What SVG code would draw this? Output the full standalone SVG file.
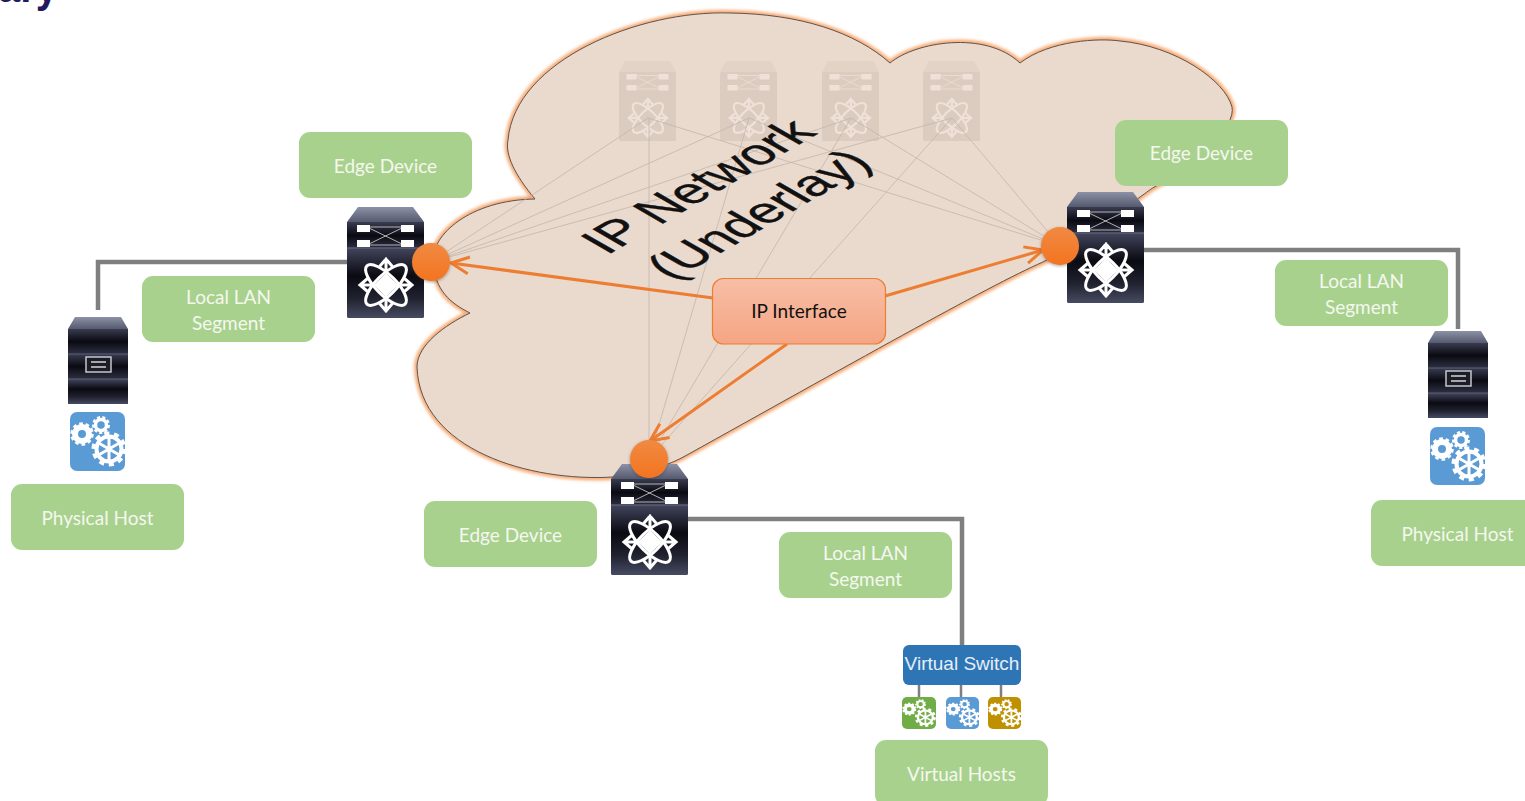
<svg xmlns="http://www.w3.org/2000/svg" xmlns:xlink="http://www.w3.org/1999/xlink" width="1525" height="801" viewBox="0 0 1525 801">
<style>
text{font-family:"Lato","Open Sans","Liberation Sans",sans-serif}
.lbl rect{fill:#a9d18e}
.lbl text{fill:#f4f8ee;font-size:19px;text-anchor:middle}
.lan{fill:none;stroke:#7f7f7f;stroke-width:4.5}
.thin{stroke:#c2b6ab;stroke-width:.8;fill:none}
.or{stroke:#ed7d31;stroke-width:3;fill:none;marker-end:url(#arr)}
.dot{fill:url(#dotG);filter:url(#shadow)}
.big{font-family:"Liberation Sans",Arial,sans-serif;font-size:50px;fill:#111;stroke:#111;stroke-width:.5}
</style>
<defs>
<linearGradient id="dotG" x1="0" y1="0" x2="0" y2="1"><stop offset="0" stop-color="#f08a42"/><stop offset="1" stop-color="#f37420"/></linearGradient>
<linearGradient id="ifG" x1="0" y1="0" x2="0" y2="1"><stop offset="0" stop-color="#f7bea6"/><stop offset="1" stop-color="#f5a583"/></linearGradient>
<linearGradient id="topG" x1="0" y1="0" x2="0" y2="1"><stop offset="0" stop-color="#8d91a5"/><stop offset="1" stop-color="#565a70"/></linearGradient>
<linearGradient id="panG" x1="0" y1="0" x2="0" y2="1"><stop offset="0" stop-color="#42455c"/><stop offset=".4" stop-color="#0a0a12"/><stop offset=".72" stop-color="#20222f"/><stop offset="1" stop-color="#474b62"/></linearGradient>
<linearGradient id="panS" x1="0" y1="0" x2="0" y2="1"><stop offset="0" stop-color="#3a3c50"/><stop offset=".5" stop-color="#0a0a12"/><stop offset="1" stop-color="#2e3042"/></linearGradient>
<filter id="glow" x="-5%" y="-5%" width="110%" height="110%"><feGaussianBlur stdDeviation="1.800"/></filter>
<filter id="shadow" x="-30%" y="-30%" width="160%" height="160%"><feDropShadow dx="0" dy="1" stdDeviation="1.500" flood-color="#333" flood-opacity=".45"/></filter>
<marker id="arr" markerUnits="userSpaceOnUse" markerWidth="24" markerHeight="24" refX="21" refY="12" orient="auto"><path d="M3 3.500 L21 12 L3 20.500" fill="none" stroke="#ed7d31" stroke-width="3"/></marker>
<path id="cloudPath" d="M613 477 C530 482 420 450 417 367 C417 345 445 325 470 313 C450 303 435 290 433 262 C431 235 470 200 535 199 C515 175 505 155 508 140 C515 60 640 10 730 13 C800 14 855 32 890 63 C915 42 985 30 1020 63 C1050 40 1100 38 1120 41 C1175 46 1225 80 1232 107 C1236 125 1200 165 1158 185 C1150 189 1146 193 1140 197 C1110 220 1075 245 1043 262 C990 285 840 370 687 455 C670 465 640 475 613 477Z"/>
<g id="star" fill="none" stroke-width="3">
<ellipse cx="39" cy="78" rx="27" ry="10" transform="rotate(45 39 78)"/>
<ellipse cx="39" cy="78" rx="27" ry="10" transform="rotate(-45 39 78)"/>
<path d="M39 52 V66 M33 59 L39 52 L45 59 M39 104 V90 M33 97 L39 104 L45 97 M13 78 H27 M20 72 L13 78 L20 84 M65 78 H51 M58 72 L65 78 L58 84" stroke-linecap="round"/>
</g>
<g id="sw">
<path d="M11 0 H66 L77 15 H0Z" fill="url(#topG)"/>
<rect y="15" width="77" height="27" fill="url(#panS)"/>
<rect y="41" width="77" height="70" rx="1.500" fill="url(#panG)"/>
<path d="M0 41 H77" stroke="#5a5e72" stroke-width="1.500"/>
<g fill="#fff"><rect x="10" y="18" width="13" height="7"/><rect x="10" y="33" width="13" height="7"/><rect x="54" y="18" width="13" height="7"/><rect x="54" y="33" width="13" height="7"/></g>
<path d="M23 21.500 L54 36.500 M23 36.500 L54 21.500 M23 20 H54 M23 38 H54" fill="none" stroke="#d8d8d8" stroke-width=".8"/>
<use xlink:href="#star" href="#star" stroke="#fff"/>
<path d="M39 66 L51 78 L39 90 L27 78Z" fill="#fff"/>
</g>
<g id="swf">
<path d="M6 0 H51 L57 11 H0Z" fill="#e3d3c7"/>
<rect y="11" width="57" height="69" rx="1.500" fill="#dccbbf"/>
<g fill="#efe1d7"><rect x="7.500" y="13" width="10" height="5.500"/><rect x="7.500" y="24" width="10" height="5.500"/><rect x="39.500" y="13" width="10" height="5.500"/><rect x="39.500" y="24" width="10" height="5.500"/></g>
<path d="M17 15.500 L40 27 M17 27 L40 15.500 M17 14.500 H40 M17 28 H40" fill="none" stroke="#efe1d7" stroke-width=".7"/>
<g transform="scale(.74 .73)"><use xlink:href="#star" href="#star" stroke="#efe1d7"/></g>
</g>
<g id="srv">
<path d="M7 0 H53 L60 12 H0Z" fill="url(#topG)"/>
<rect y="12" width="60" height="25" fill="url(#panS)"/>
<rect y="37" width="60" height="25" fill="url(#panS)"/>
<rect y="62" width="60" height="25" fill="url(#panG)"/>
<path d="M0 37 H60 M0 62 H60" stroke="#5d6176" stroke-width="1"/>
<rect x="18" y="40" width="25" height="15" fill="#1c1d26" stroke="#c5c7cc" stroke-width="1.500"/>
<path d="M23 45 H38 M23 50 H38" stroke="#a5a7ac" stroke-width="1.800"/>
</g>
<g id="gears">
<g fill="none" stroke="#fff">
<circle cx="39" cy="37" r="15.500" stroke-width="4" stroke-dasharray="5 4.700"/>
<circle cx="39" cy="37" r="12.500" stroke-width="4"/>
<circle cx="12" cy="22" r="10" stroke-width="3.500" stroke-dasharray="3.500 2.800"/>
<circle cx="12" cy="22" r="7" stroke-width="6"/>
<circle cx="31" cy="13" r="7.500" stroke-width="3" stroke-dasharray="3 2.200"/>
<circle cx="31" cy="13" r="5.500" stroke-width="3.500"/>
<path d="M39 26 V48 M29.500 31.500 L48.500 42.500 M48.500 31.500 L29.500 42.500" stroke-width="3"/>
</g>
</g>
</defs>
<rect width="1525" height="801" fill="#fff"/>
<text x="-2" y="2" font-size="44" font-weight="700" fill="#231a5e" style="font-family:'Liberation Sans',sans-serif" textLength="60" lengthAdjust="spacingAndGlyphs">ary</text>

<g id="cloud">
<use xlink:href="#cloudPath" href="#cloudPath" filter="url(#glow)" fill="none" stroke="#f8ad78" stroke-width="6"/>
<use xlink:href="#cloudPath" href="#cloudPath" fill="#ead9cd" stroke="#5f544d" stroke-width="1"/>
</g>

<g id="spine1"><use xlink:href="#swf" href="#swf" x="619" y="61"/></g>
<g id="spine2"><use xlink:href="#swf" href="#swf" x="720" y="61"/></g>
<g id="spine3"><use xlink:href="#swf" href="#swf" x="822" y="61"/></g>
<g id="spine4"><use xlink:href="#swf" href="#swf" x="923" y="61"/></g>

<g id="connectors">
<path class="thin" d="M648 118 L431 262 M749 118 L431 262 M851 118 L431 262 M952 118 L431 262 M648 118 L1060 246 M749 118 L1060 246 M851 118 L1060 246 M952 118 L1060 246 M649 118 L649 459 M749 118 L649 459 M851 118 L649 459 M952 118 L649 459"/>
<path class="lan" d="M348 262 H98 V310"/>
<path class="lan" d="M1144 250 H1458 V329"/>
<path class="lan" d="M688 519 H962 V646"/>
<path d="M919 684 V698 M961 684 V698 M1001 684 V698" stroke="#7f7f7f" stroke-width="2.500" fill="none"/>
<path class="or" d="M713 298 L451 263"/>
<path class="or" d="M885 296 L1043 250"/>
<path class="or" d="M787 344 L650 441"/>
</g>

<text class="big" transform="matrix(.866 -.5 .866 .5 607 255.500)">IP Network</text>
<text class="big" transform="matrix(.866 -.5 .866 .5 672 281)">(Underlay)</text>

<g id="edgeLeft"><use xlink:href="#sw" href="#sw" x="347" y="207"/><circle class="dot" cx="431" cy="262" r="19"/></g>
<g id="edgeRight"><use xlink:href="#sw" href="#sw" x="1067" y="192"/><circle class="dot" cx="1060" cy="246" r="19"/></g>
<g id="edgeBottom"><use xlink:href="#sw" href="#sw" x="611" y="464"/><circle class="dot" cx="649" cy="459" r="19"/></g>

<g id="hostLeft"><use xlink:href="#srv" href="#srv" x="68" y="317"/><rect x="70" y="412" width="55" height="59" rx="7" fill="#5b9bd5"/><use xlink:href="#gears" href="#gears" x="70" y="412"/></g>
<g id="hostRight"><use xlink:href="#srv" href="#srv" x="1428" y="331"/><rect x="1430" y="427" width="55" height="58" rx="7" fill="#5b9bd5"/><use xlink:href="#gears" href="#gears" x="1430" y="427"/></g>

<g id="vswitch"><rect x="903" y="645" width="118" height="40" rx="6" fill="#2e75b6"/><text x="962" y="670" font-size="19" text-anchor="middle" fill="#e6eef7" style="font-family:'Liberation Sans',sans-serif">Virtual Switch</text></g>
<g id="vm1"><rect x="902" y="697" width="34" height="32" rx="5" fill="#70ad47"/><g transform="translate(902 697) scale(.6 .55)"><use xlink:href="#gears" href="#gears"/></g></g>
<g id="vm2"><rect x="946" y="697" width="33" height="32" rx="5" fill="#5b9bd5"/><g transform="translate(946 697) scale(.6 .55)"><use xlink:href="#gears" href="#gears"/></g></g>
<g id="vm3"><rect x="988" y="697" width="33" height="32" rx="5" fill="#bf9000"/><g transform="translate(988 697) scale(.6 .55)"><use xlink:href="#gears" href="#gears"/></g></g>

<g id="ipInterface"><rect x="712.500" y="278.500" width="173" height="65.500" rx="11" fill="url(#ifG)" stroke="#ed7d31" stroke-width="1.200"/><text x="799" y="318" font-size="19" text-anchor="middle" fill="#111">IP Interface</text></g>

<g id="lblEdge1" class="lbl"><rect x="299" y="132" width="173" height="66" rx="11"/><text x="385.500" y="173">Edge Device</text></g>
<g id="lblEdge2" class="lbl"><rect x="1115" y="120" width="173" height="66" rx="11"/><text x="1201.500" y="160">Edge Device</text></g>
<g id="lblEdge3" class="lbl"><rect x="424" y="501" width="173" height="66" rx="11"/><text x="510.500" y="542">Edge Device</text></g>
<g id="lblLan1" class="lbl"><rect x="142" y="276" width="173" height="66" rx="11"/><text x="228.500" y="304">Local LAN</text><text x="228.500" y="330">Segment</text></g>
<g id="lblLan2" class="lbl"><rect x="1275" y="260" width="173" height="66" rx="11"/><text x="1361.500" y="288">Local LAN</text><text x="1361.500" y="314">Segment</text></g>
<g id="lblLan3" class="lbl"><rect x="779" y="532" width="173" height="66" rx="11"/><text x="865.500" y="560">Local LAN</text><text x="865.500" y="586">Segment</text></g>
<g id="lblHost1" class="lbl"><rect x="11" y="484" width="173" height="66" rx="11"/><text x="97.500" y="525">Physical Host</text></g>
<g id="lblHost2" class="lbl"><rect x="1371" y="500" width="173" height="66" rx="11"/><text x="1457.500" y="541">Physical Host</text></g>
<g id="lblVh" class="lbl"><rect x="875" y="740" width="173" height="66" rx="11"/><text x="961.500" y="781">Virtual Hosts</text></g>
</svg>
